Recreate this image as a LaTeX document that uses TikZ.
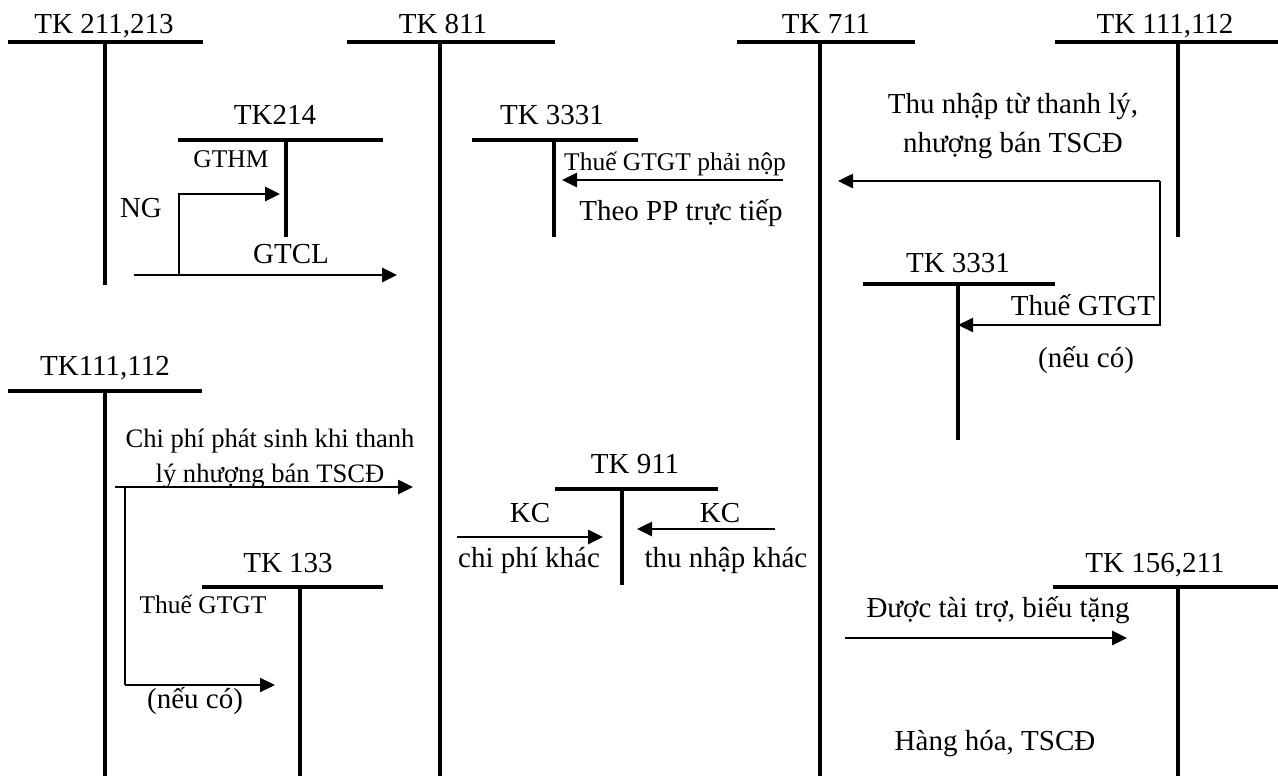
\documentclass[tikz,border=0pt]{standalone}
\usepackage{fontspec}
\setmainfont{Liberation Serif}
\usetikzlibrary{arrows.meta}
\newcommand{\mainf}{\fontsize{14.5}{19.5}\selectfont}
\newcommand{\smallf}{\fontsize{12.75}{17.5}\selectfont}
\tikzset{
  tacct/.style={line width=2pt},
  arr/.style={line width=1.3pt,-{Triangle[length=7.5pt,width=7pt]}},
  thinline/.style={line width=0.75pt},
  lbl/.style={inner sep=0pt,anchor=base,font=\mainf},
  sml/.style={inner sep=0pt,anchor=base,font=\smallf},
}
\begin{document}
\begin{tikzpicture}[x=0.5pt,y=-0.5pt]
\fill[white] (0,0) rectangle (1278,776);
\useasboundingbox (0,0) rectangle (1278,776);

% ---------- T accounts (coordinates) ----------
% TK 211,213
\coordinate (a1l) at (8,42); \coordinate (a1r) at (203,42);
\coordinate (a1t) at (105,42); \coordinate (a1b) at (105,285);
% TK 811
\coordinate (a2l) at (347,42); \coordinate (a2r) at (555,42);
\coordinate (a2t) at (440,42); \coordinate (a2b) at (440,776);
% TK 711
\coordinate (a3l) at (737,42); \coordinate (a3r) at (915,42);
\coordinate (a3t) at (820,42); \coordinate (a3b) at (820,776);
% TK 111,112 (top)
\coordinate (a4l) at (1055,42); \coordinate (a4r) at (1278,42);
\coordinate (a4t) at (1178,42); \coordinate (a4b) at (1178,237);
% TK214
\coordinate (b1l) at (178,140); \coordinate (b1r) at (383,140);
\coordinate (b1t) at (286,140); \coordinate (b1b) at (286,237);
% TK 3331 (middle)
\coordinate (b2l) at (472,140); \coordinate (b2r) at (638,140);
\coordinate (b2t) at (554,140); \coordinate (b2b) at (554,237);
% TK 3331 (right)
\coordinate (b3l) at (863,284); \coordinate (b3r) at (1055,284);
\coordinate (b3t) at (958,284); \coordinate (b3b) at (958,440);
% TK111,112 (left)
\coordinate (c1l) at (8,391); \coordinate (c1r) at (202,391);
\coordinate (c1t) at (105,391); \coordinate (c1b) at (105,776);
% TK 911
\coordinate (c2l) at (555,489); \coordinate (c2r) at (718,489);
\coordinate (c2t) at (622,489); \coordinate (c2b) at (622,585);
% TK 133
\coordinate (c3l) at (202,587); \coordinate (c3r) at (383,587);
\coordinate (c3t) at (300,587); \coordinate (c3b) at (300,776);
% TK 156,211
\coordinate (c4l) at (1053,587); \coordinate (c4r) at (1278,587);
\coordinate (c4t) at (1178,587); \coordinate (c4b) at (1178,776);

\foreach \n in {a1,a2,a3,a4,b1,b2,b3,c1,c2,c3,c4}{
  \draw[tacct] (\n l) -- (\n r);
  \draw[tacct] (\n t) -- (\n b);
}

% ---------- account titles ----------
\node[lbl] (tA1) at (104,33) {TK 211,213};
\node[lbl] (tA2) at (443,33) {TK 811};
\node[lbl] (tA3) at (826,33) {TK 711};
\node[lbl] (tA4) at (1165,33) {TK 111,112};
\node[lbl] (tB1) at (275,124) {TK214};
\node[lbl] (tB2) at (552,124) {TK 3331};
\node[lbl] (tB3) at (958,272) {TK 3331};
\node[lbl] (tC1) at (105,375) {TK111,112};
\node[lbl] (tC2) at (635,473) {TK 911};
\node[lbl] (tC3) at (288,572) {TK 133};
\node[lbl] (tC4) at (1155,572) {TK 156,211};

% ---------- texts ----------
\node[sml] (gthm) at (231,167) {GTHM};
\node[lbl] (ng) at (141,217) {NG};
\node[lbl] (gtcl) at (291,263) {GTCL};
\node[sml] (vat1) at (675,170) {Thuế GTGT phải nộp};
\node[lbl] (pp) at (681,220) {Theo PP trực tiếp};
\node[lbl,align=center,anchor=base] (thu) at (1013,152) {Thu nhập từ thanh lý,\\nhượng bán TSCĐ};
\node[lbl] (vat2) at (1083,315) {Thuế GTGT};
\node[lbl] (neu2) at (1086,367) {(nếu có)};
\node[font=\fontsize{13.3}{17.5}\selectfont,inner sep=0pt,align=center,anchor=base] (cp) at (270,482) {Chi phí phát sinh khi thanh\\lý nhượng bán TSCĐ};
\node[sml] (vat3) at (203,613) {Thuế GTGT};
\node[lbl] (neu3) at (195,708) {(nếu có)};
\node[lbl] (kc1) at (530,522) {KC};
\node[lbl] (kc2) at (720,522) {KC};
\node[lbl] (cpk) at (529,567) {chi phí khác};
\node[lbl] (tnk) at (726,567) {thu nhập khác};
\node[lbl] (dtt) at (998,617) {Được tài trợ, biếu tặng};
\node[lbl] (hh) at (995,750) {Hàng hóa, TSCĐ};

% ---------- connectors ----------
% TK 211,213 -> TK 811 / TK214
\coordinate (g0) at (134,275); \coordinate (g1) at (397,275);
\coordinate (n0) at (179,275); \coordinate (n1) at (179,194); \coordinate (n2) at (280,194);
\draw[arr] (g0) -- (g1);
\draw[arr] (n0) -- (n1) -- (n2);
% TK 711 -> TK 3331
\coordinate (v0) at (783,180); \coordinate (v1) at (562,180);
\draw[arr] (v0) -- (v1);
% TK 111,112 -> TK 711 and TK 3331
\coordinate (r0) at (1160,181); \coordinate (r1) at (838,181);
\coordinate (r2) at (1160,325); \coordinate (r3) at (958,325);
\draw[arr] (r0) -- (r1);
\draw[arr,line width=1.1pt] (r0) -- (r2) -- (r3);
% TK111,112 -> TK 811 and TK 133
\coordinate (p0) at (115,487); \coordinate (p1) at (413,487);
\coordinate (q0) at (125,487); \coordinate (q1) at (125,685); \coordinate (q2) at (275,685);
\draw[arr] (p0) -- (p1);
\draw[thinline] (q0) -- (q1);
\draw[arr,line width=1.1pt] (q1) -- (q2);
% KC arrows
\coordinate (k0) at (457,537); \coordinate (k1) at (603,537);
\coordinate (k2) at (775,529); \coordinate (k3) at (637,529);
\draw[arr] (k0) -- (k1);
\draw[arr] (k2) -- (k3);
% Duoc tai tro
\coordinate (d0) at (845,638); \coordinate (d1) at (1127,638);
\draw[arr] (d0) -- (d1);
\end{tikzpicture}
\end{document}
